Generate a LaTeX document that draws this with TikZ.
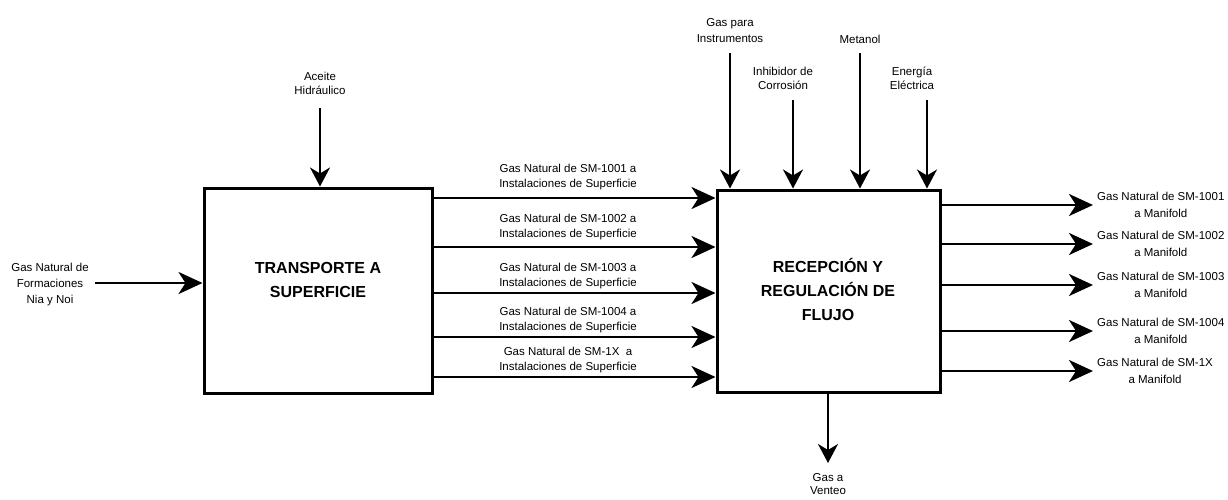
\documentclass[tikz,border=0pt]{standalone}
\usepackage{fontspec}
\setmainfont{Liberation Sans}
\usetikzlibrary{arrows.meta}
\begin{document}
\begin{tikzpicture}[x=1pt,y=-1pt,
  blk/.style={draw, line width=3pt, inner sep=0pt},
  ttl/.style={font=\fontsize{16}{24}\selectfont\bfseries, align=center, inner sep=0pt},
  lbl/.style={font=\fontsize{11.5}{15}\selectfont, align=center, inner sep=0pt},
  flow/.style={line width=2.8pt, -{Stealth[length=24pt,width=22pt,inset=7pt]}},
  feed/.style={line width=2.2pt, -{Stealth[length=19pt,width=20pt,inset=6pt]}}]
\useasboundingbox (0,0) rectangle (1228,500);

% process blocks
\node[blk, minimum width=228pt, minimum height=205pt] (b1) at (318,290.5) {};
\node[blk, minimum width=223pt, minimum height=202pt] (b2) at (828.5,291) {};
\node[ttl] (t1) at (318,280) {TRANSPORTE A\\SUPERFICIE};
\node[ttl] (t2) at (828,289) {RECEPCIÓN Y\\REGULACIÓN DE\\FLUJO};

% input to the first block
\node[lbl, font=\fontsize{11.5}{16}\selectfont] (in) at (50,284.5) {Gas Natural de\\Formaciones\\Nia y Noi};
\coordinate (inS) at (95,283);
\draw[flow] (inS) -- (inS -| b1.west);

\node[lbl, font=\fontsize{11.5}{14}\selectfont] (ac) at (320,83) {Aceite\\Hidráulico};
\coordinate (acS) at (320,108);
\draw[feed] (acS) -- (acS |- b1.north);

% transfer lines between the blocks
\foreach \i/\y in {1/198,2/247,3/293,4/337,5/377}{
  \coordinate (m\i) at (432,\y);
  \draw[flow] (m\i -| b1.east) -- (m\i -| b2.west);
}
\node[lbl] (l1) at (568,177.5) {Gas Natural de SM-1001 a\\Instalaciones de Superficie};
\node[lbl] (l2) at (568,227.5) {Gas Natural de SM-1002 a\\Instalaciones de Superficie};
\node[lbl] (l3) at (568,276.5) {Gas Natural de SM-1003 a\\Instalaciones de Superficie};
\node[lbl] (l4) at (568,320.5) {Gas Natural de SM-1004 a\\Instalaciones de Superficie};
\node[lbl] (l5) at (568,360.5) {Gas Natural de SM-1X\ \ a\\Instalaciones de Superficie};

% utilities feeding the second block
\node[lbl, font=\fontsize{11.5}{16}\selectfont] (gi) at (730,31) {Gas para\\Instrumentos};
\node[lbl, font=\fontsize{11.5}{14}\selectfont] (ic) at (783,78) {Inhibidor de\\Corrosión};
\node[lbl] (me) at (860,39) {Metanol};
\node[lbl, font=\fontsize{11.5}{14}\selectfont] (ee) at (912,78) {Energía\\Eléctrica};
\coordinate (giS) at (730,53);
\coordinate (icS) at (793,100);
\coordinate (meS) at (860,53);
\coordinate (eeS) at (927,100);
\foreach \c in {giS,icS,meS,eeS}{
  \draw[feed] (\c) -- (\c |- b2.north);
}

% products leaving the second block
\foreach \i/\y/\n in {1/205/1001,2/244/1002,3/285/1003,4/331/1004,5/371/1X}{
  \coordinate (o\i) at (1093,\y);
  \draw[flow] (o\i -| b2.east) -- (o\i);
  \node[lbl, font=\fontsize{11.5}{17}\selectfont, anchor=west] (p\i) at ([xshift=4pt]o\i) {Gas Natural de SM-\n\\a Manifold};
}

% vent line
\coordinate (vE) at (828,463);
\draw[feed] (vE |- b2.south) -- (vE);
\node[lbl, font=\fontsize{11.5}{13}\selectfont] (ve) at (828,484.5) {Gas a\\Venteo};
\end{tikzpicture}
\end{document}
